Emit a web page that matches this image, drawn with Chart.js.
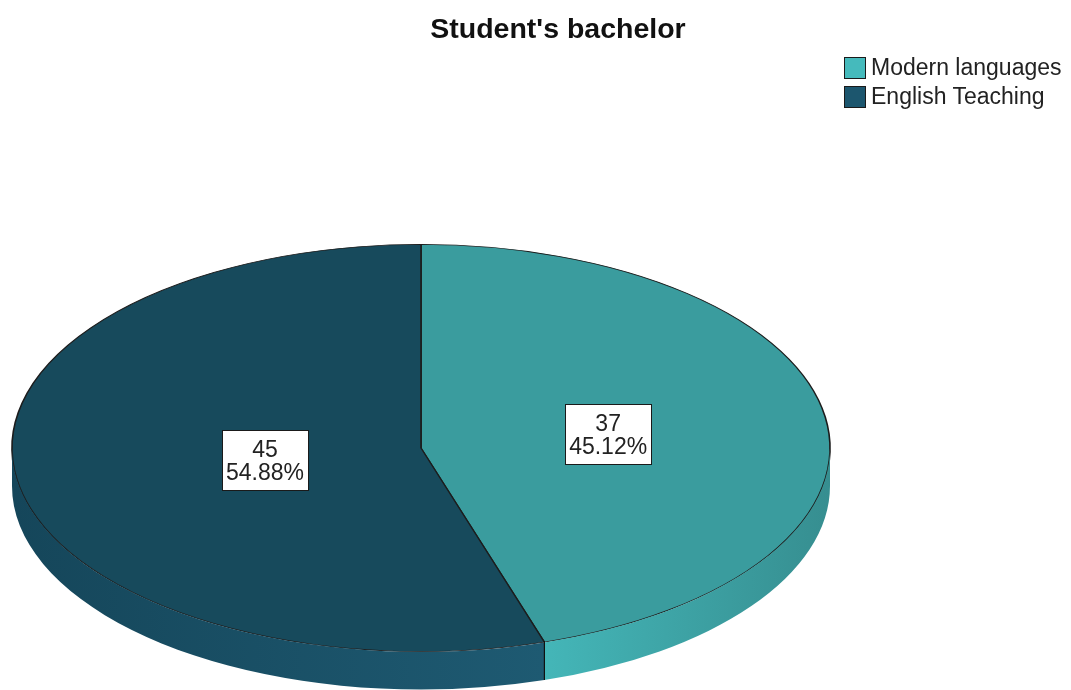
<!DOCTYPE html>
<html>
<head>
<meta charset="utf-8">
<title>Student's bachelor</title>
<script src="https://cdn.jsdelivr.net/npm/chart.js@4/dist/chart.umd.min.js"></script>
<style>
  html, body { margin: 0; padding: 0; background: #fff; }
  #wrap { position: relative; width: 1071px; height: 690px; overflow: hidden; font-family: "Liberation Sans", Arial, sans-serif; }
  #chart { position: absolute; left: 0; top: 0; }
  #title { position: absolute; left: 358px; width: 400px; top: 12px; text-align: center; font-weight: bold; font-size: 28.5px; color: #111; }
  #legend { position: absolute; left: 844px; top: 53px; }
  .item { display: flex; align-items: center; height: 29px; font-size: 23px; color: #222; }
  .swatch { width: 20px; height: 20px; border: 1.5px solid #1a1a1a; margin-right: 5px; }
</style>
</head>
<body>
<div id="wrap">
  <canvas id="chart" width="1071" height="690"></canvas>
  <div id="title">Student's bachelor</div>
  <div id="legend"></div>
</div>
<script>
// frequencies per bachelor programme
const categories = ['Modern languages', 'English Teaching'];
const counts = [37, 45];

const topColors = ['#3a9c9e', '#174a5c'];
const swatchColors = ['#45babc', '#1c566e'];
// side wall shading, [start-of-slice, end-of-slice]
const sideColors = [['#368e90', '#44b6b8'], ['#1e5a72', '#15465a']];
const labelRadius = [0.463, 0.386];

const total = counts.reduce((a, b) => a + b, 0);
const percents = counts.map(c => (c / total * 100).toFixed(2) + '%');

// legend
const legendEl = document.getElementById('legend');
categories.forEach((name, i) => {
    const row = document.createElement('div');
    row.className = 'item';
    row.innerHTML = '<span class="swatch" style="background:' + swatchColors[i] + '"></span>' + name;
    legendEl.appendChild(row);
});

// ── tilted pie: library draws a circle, we stretch it into an ellipse and add a rim ──
const pie3d = {
    id: 'pie3d',
    beforeDatasetsDraw(chart, args, opts) {
        const ctx = chart.ctx;
        const arc = chart.getDatasetMeta(0).data[0];
        const r = arc.outerRadius;
        // squash the top face
        ctx.save();
        ctx.translate(arc.x, arc.y);
        ctx.scale(opts.rx / r, 1);
        ctx.translate(-arc.x, -arc.y);
    },
    afterDatasetsDraw(chart, args, opts) {
        const ctx = chart.ctx;
        ctx.restore();

        const arcs = chart.getDatasetMeta(0).data;
        const cx = arcs[0].x, cy = arcs[0].y, r = arcs[0].outerRadius;
        const rx = opts.rx, ry = r, depth = opts.depth;

        // front rim (lower half of the ellipse)
        arcs.forEach((arc, i) => {
            const a0 = Math.max(arc.startAngle, 0);
            const a1 = Math.min(arc.endAngle, Math.PI);
            if (a1 <= a0) return;
            const g = ctx.createLinearGradient(cx + rx * Math.cos(a0), 0, cx + rx * Math.cos(a1), 0);
            g.addColorStop(0, sideColors[i][0]);
            g.addColorStop(1, sideColors[i][1]);
            ctx.save();
            ctx.fillStyle = g;
            ctx.beginPath();
            ctx.ellipse(cx, cy + 0.3, rx, ry, 0, a0, a1);
            ctx.ellipse(cx, cy + depth, rx, ry, 0, a1, a0, true);
            ctx.closePath();
            ctx.fill();
            ctx.restore();
        });

        // slice seams running down the rim
        ctx.save();
        ctx.strokeStyle = '#111';
        ctx.lineWidth = 1.2;
        ctx.beginPath();
        arcs.forEach(arc => {
            [arc.startAngle, arc.endAngle].forEach(a => {
                const s = Math.sin(a);
                if (s > 0.001) {
                    const x = cx + rx * Math.cos(a), y = cy + ry * s;
                    ctx.moveTo(x, y - 1);
                    ctx.lineTo(x, y + depth);
                }
            });
        });
        ctx.stroke();
        ctx.restore();

        // value boxes
        ctx.save();
        ctx.font = '23px "Liberation Sans", Arial, sans-serif';
        ctx.textAlign = 'center';
        ctx.textBaseline = 'alphabetic';
        arcs.forEach((arc, i) => {
            const mid = (arc.startAngle + arc.endAngle) / 2;
            const f = labelRadius[i];
            const px = cx + rx * f * Math.cos(mid);
            const py = cy + ry * f * Math.sin(mid);
            const lines = [String(counts[i]), percents[i]];
            const w = Math.max(...lines.map(t => ctx.measureText(t).width)) + 8;
            const h = 60;
            const bx = Math.round(px - w / 2) + 0.5, by = Math.round(py - h / 2) + 0.5;
            ctx.fillStyle = '#ffffff';
            ctx.fillRect(bx, by, w, h);
            ctx.strokeStyle = '#1a1a1a';
            ctx.lineWidth = 1;
            ctx.strokeRect(bx, by, w, h);
            ctx.fillStyle = '#222';
            ctx.fillText(lines[0], px, py - 3);
            ctx.fillText(lines[1], px, py + 20);
        });
        ctx.restore();
    }
};

const cx = 421, cy = 448, ry = 204;

new Chart(document.getElementById('chart'), {
    type: 'pie',
    data: {
        labels: categories,
        datasets: [{
            data: counts,
            backgroundColor: topColors,
            borderColor: '#1c1c1c',
            borderWidth: 0.8,
            clip: false
        }]
    },
    options: {
        responsive: false,
        animation: false,
        events: [],
        layout: {
            padding: { left: cx - ry, right: 1071 - (cx + ry), top: cy - ry, bottom: 690 - (cy + ry) }
        },
        plugins: {
            legend: { display: false },
            tooltip: { enabled: false },
            title: { display: false },
            pie3d: { rx: 409, depth: 38 }
        }
    },
    plugins: [pie3d]
});
</script>
</body>
</html>
